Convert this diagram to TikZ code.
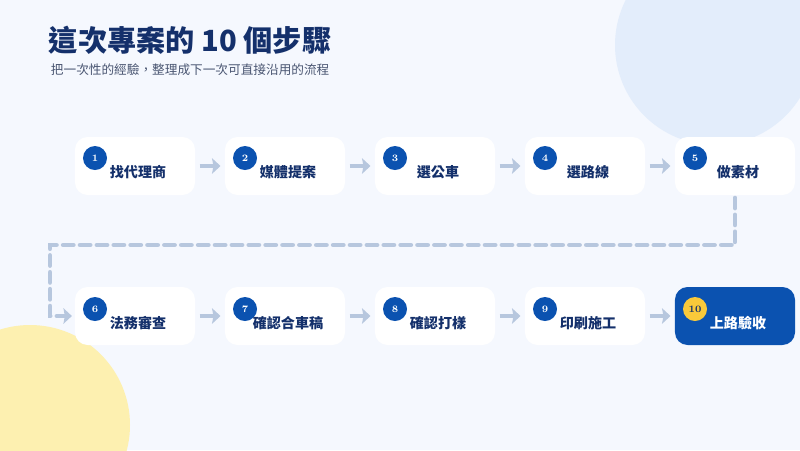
\documentclass[tikz,border=0pt]{standalone}
\usepackage{fontspec}
\setmainfont{Noto Sans CJK TC}
\usepackage{xcolor}
\usetikzlibrary{positioning,calc,arrows.meta}
\definecolor{bgcol}{HTML}{F5F8FE}
\definecolor{navy}{HTML}{14306B}
\definecolor{subgrey}{HTML}{4A5672}
\definecolor{mainblue}{HTML}{0B52B0}
\definecolor{lineblue}{HTML}{B7C7DE}
\definecolor{paleblue}{HTML}{E3EDFB}
\definecolor{paleyellow}{HTML}{FDF0B0}
\definecolor{gold}{HTML}{F9C93A}

\begin{document}
\begin{tikzpicture}[
    x=0.025cm, y=-0.025cm,
    card/.style={rectangle, rounded corners=9pt, fill=white, minimum width=3cm, minimum height=1.45cm, inner sep=0pt},
    lastcard/.style={card, fill=mainblue},
    badge/.style={circle, fill=mainblue, text=white, minimum size=0.6cm, inner sep=0pt, font=\fontspec{Latin Modern Roman}\bfseries\scriptsize},
    lastbadge/.style={badge, fill=gold, text=navy},
    cardtext/.style={font=\bfseries\normalsize, text=navy},
    flow/.style={-{Stealth[length=6pt,width=11pt,inset=1pt]}, line width=3.5pt, draw=lineblue},
    label/.style={anchor=west}
]
    % Background
    \fill[bgcol] (0,0) rectangle (800,450);
    \useasboundingbox (0,0) rectangle (800,450);
    \fill[paleblue] (715,45) circle (100);
    \fill[paleyellow] (30,425) circle (100);

    % Title
    \node[label, font=\bfseries\huge, text=navy] (title) at (44,40) {這次專案的 10 個步驟};
    \node[label, font=\small, text=subgrey] (subtitle) at (46,70) {把一次性的經驗，整理成下一次可直接沿用的流程};

    % Row one
    \node[card] (s1) at (135,166) {};
    \node[card] (s2) at (285,166) {};
    \node[card] (s3) at (435,166) {};
    \node[card] (s4) at (585,166) {};
    \node[card] (s5) at (735,166) {};

    % Row two
    \node[card] (s6) at (135,316) {};
    \node[card] (s7) at (285,316) {};
    \node[card] (s8) at (435,316) {};
    \node[card] (s9) at (585,316) {};
    \node[lastcard] (s10) at (735,316) {};

    % Badges
    \node[badge] (b1) at (95,158) {1};
    \node[badge] (b2) at (245,158) {2};
    \node[badge] (b3) at (395,158) {3};
    \node[badge] (b4) at (545,158) {4};
    \node[badge] (b5) at (695,158) {5};
    \node[badge] (b6) at (95,309) {6};
    \node[badge] (b7) at (245,309) {7};
    \node[badge] (b8) at (395,309) {8};
    \node[badge] (b9) at (545,309) {9};
    \node[lastbadge] (b10) at (695,309) {10};

    % Card names
    \node[cardtext] at (138,172) {找代理商};
    \node[cardtext] at (288,172) {媒體提案};
    \node[cardtext] at (438,172) {選公車};
    \node[cardtext] at (588,172) {選路線};
    \node[cardtext] at (738,172) {做素材};
    \node[cardtext] at (138,323) {法務審查};
    \node[cardtext] at (288,323) {確認合車稿};
    \node[cardtext] at (438,323) {確認打樣};
    \node[cardtext] at (588,323) {印刷施工};
    \node[cardtext, text=white] at (738,323) {上路驗收};

    % Connectors
    \draw[flow] ([xshift=3pt]s1.east) -- ([xshift=-3pt]s2.west);
    \draw[flow] ([xshift=3pt]s2.east) -- ([xshift=-3pt]s3.west);
    \draw[flow] ([xshift=3pt]s3.east) -- ([xshift=-3pt]s4.west);
    \draw[flow] ([xshift=3pt]s4.east) -- ([xshift=-3pt]s5.west);
    \draw[flow] ([xshift=3pt]s6.east) -- ([xshift=-3pt]s7.west);
    \draw[flow] ([xshift=3pt]s7.east) -- ([xshift=-3pt]s8.west);
    \draw[flow] ([xshift=3pt]s8.east) -- ([xshift=-3pt]s9.west);
    \draw[flow] ([xshift=3pt]s9.east) -- ([xshift=-3pt]s10.west);

    % Wrap-around
    \coordinate (turn) at (50,245);
    \draw[flow, dash pattern=on 7pt off 5pt, line cap=round] ([yshift=-2pt]s5.south) |- (turn) |- ([xshift=-2pt]s6.west);
\end{tikzpicture}
\end{document}
